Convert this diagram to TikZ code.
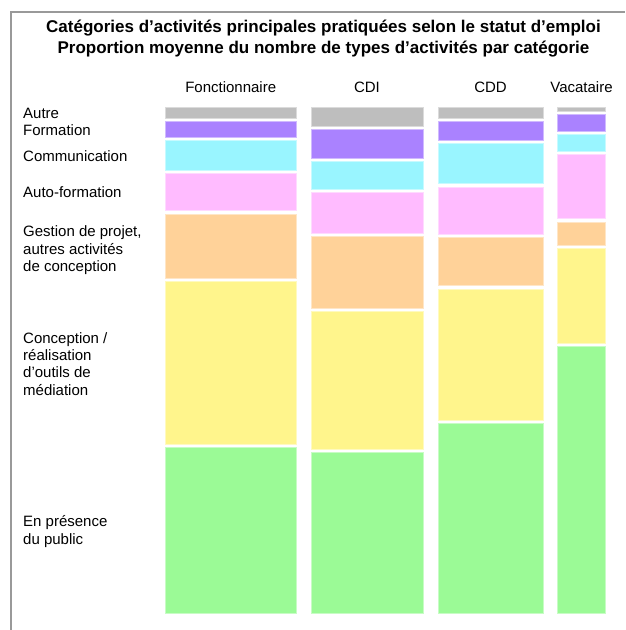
\documentclass[tikz,border=0pt]{standalone}
\usepackage{fontspec}
\setmainfont{Liberation Sans}
\definecolor{cautre}{RGB}{190,190,190}
\definecolor{cform}{RGB}{170,130,255}
\definecolor{ccomm}{RGB}{153,245,255}
\definecolor{cauto}{RGB}{255,187,255}
\definecolor{cgest}{RGB}{255,210,153}
\definecolor{cconc}{RGB}{255,245,140}
\definecolor{cpub}{RGB}{155,250,150}
\tikzset{
  lbl/.style={font=\fontsize{15}{17.3}\selectfont, inner sep=0pt, align=left, anchor=base west},
  head/.style={font=\fontsize{15}{17.3}\selectfont, inner sep=0pt, anchor=base},
  seg/.style={fill=#1, draw=#1!55!white, line width=0.7pt}
}
\begin{document}
\begin{tikzpicture}[x=1pt,y=-1pt]
\useasboundingbox (0,0) rectangle (625,630);
\draw[black!40, line width=1.3pt] (11,630) -- (11,12) -- (625,12);
\node[font=\bfseries\fontsize{17}{20.6}\selectfont, inner sep=0pt, align=center, anchor=base] (title) at (323.5,53.3)
  {Catégories d’activités principales pratiquées selon le statut d’emploi\\Proportion moyenne du nombre de types d’activités par catégorie};
% colonnes
\node[head] (fonc) at (230.7,92) {Fonctionnaire};
\node[head] (cdi) at (367,92) {CDI};
\node[head] (cdd) at (490.5,92) {CDD};
\node[head] (vac) at (581.5,92) {Vacataire};
% categories
\node[lbl] (autre) at (23,118.3) {Autre};
\node[lbl] (form) at (23,135) {Formation};
\node[lbl] (comm) at (23,161.7) {Communication};
\node[lbl] (auto) at (23,197.7) {Auto-formation};
\node[lbl] (gest) at (23,271.5) {Gestion de projet,\\autres activités\\de conception};
\node[lbl] (conc) at (23,395) {Conception /\\réalisation\\d’outils de\\médiation};
\node[lbl] (pub) at (23,544) {En présence\\du public};
% barres
\foreach \ya/\yb/\c in {105.7/119.7/cautre,119.7/139/cform,139/171.7/ccomm,171.7/212.3/cauto,212.3/280/cgest,280/445.8/cconc,445.8/614.6/cpub}
  \filldraw[seg=\c] (165.3,{\ya+1.6}) rectangle (296,{\yb-1.6});
\foreach \ya/\yb/\c in {105.7/127.5/cautre,127.5/159.9/cform,159.9/190.7/ccomm,190.7/234.9/cauto,234.9/310.2/cgest,310.2/450.6/cconc,450.6/614.6/cpub}
  \filldraw[seg=\c] (311,{\ya+1.6}) rectangle (423.3,{\yb-1.6});
\foreach \ya/\yb/\c in {105.7/119.7/cautre,119.7/141.7/cform,141.7/185.3/ccomm,185.3/236/cauto,236/287.3/cgest,287.3/421.7/cconc,421.7/614.6/cpub}
  \filldraw[seg=\c] (438,{\ya+1.6}) rectangle (543,{\yb-1.6});
\foreach \ya/\yb/\c in {105.7/112.5/cautre,112.5/133.2/cform,133.2/152.7/ccomm,152.7/220.3/cauto,220.3/246.7/cgest,246.7/344.7/cconc,344.7/614.6/cpub}
  \filldraw[seg=\c] (557.7,{\ya+1.6}) rectangle (605.3,{\yb-1.6});
\end{tikzpicture}
\end{document}
